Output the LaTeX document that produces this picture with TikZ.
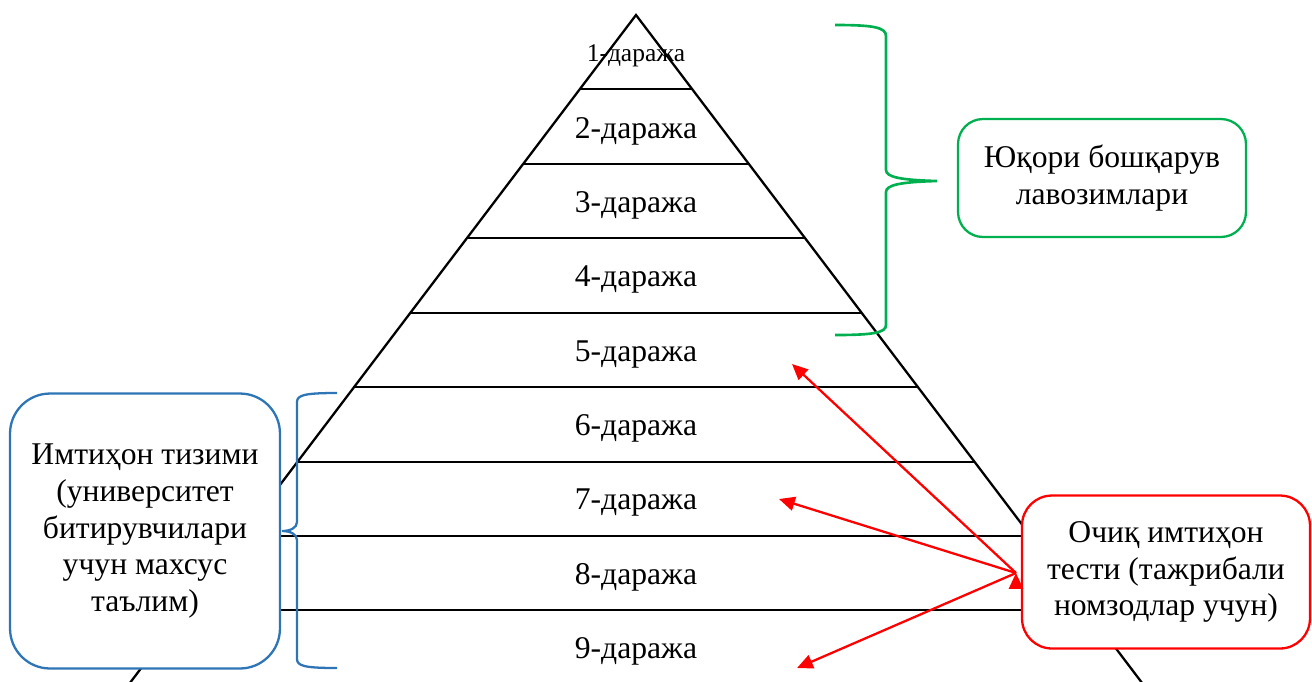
\documentclass[tikz,border=0pt]{standalone}
\usepackage{fontspec}
\setmainfont{Liberation Serif}
\usetikzlibrary{arrows.meta}
\definecolor{brgreen}{RGB}{0,176,80}
\definecolor{brblue}{RGB}{46,117,182}
\definecolor{brred}{RGB}{255,0,0}

\begin{document}
\begin{tikzpicture}[x=0.02cm,y=-0.02cm,line width=1.3pt,
	lvl/.style={font=\fontsize{18}{21}\selectfont},
	infobox/.style={draw,fill=white,line width=1.3pt,align=center,inner sep=0pt,font=\fontsize{18}{21}\selectfont}]
			\clip (0,0) rectangle (1312,681);
			
			% pyramid
			\draw (117,700) -- (636,15) -- (1155,700);
			\draw (580,89) -- (692,89);
			\draw (523,164) -- (749,164);
			\draw (467,238) -- (805,238);
			\draw (410,313) -- (862,313);
			\draw (353,387) -- (919,387);
			\draw (298,462) -- (974,462);
			\draw (242,536) -- (1030,536);
			\draw (186,610) -- (1086,610);
			
			\node[font=\fontsize{14.5}{17}\selectfont] (1) at (636,56) {1-даража};
			\node[lvl] (2) at (636,131) {2-даража};
			\node[lvl] (3) at (636,205) {3-даража};
			\node[lvl] (4) at (636,279) {4-даража};
			\node[lvl] (5) at (636,354) {5-даража};
			\node[lvl] (6) at (636,428) {6-даража};
			\node[lvl] (7) at (636,502) {7-даража};
			\node[lvl] (8) at (636,577) {8-даража};
			\node[lvl] (9) at (636,651) {9-даража};
			
			% braces
			\draw[brgreen,line width=1.5pt] (835,25) .. controls (872,25) and (886,27) .. (886,36) -- (886,170)
				.. controls (886,177) and (900,180) .. (937,181)
				.. controls (900,182) and (886,185) .. (886,192) -- (886,325)
				.. controls (886,333) and (872,335) .. (835,335);
			\draw[brblue,line width=1.3pt] (337,393) .. controls (305,393) and (297,395) .. (297,402) -- (297,522)
				.. controls (297,528) and (290,531) .. (282,531)
				.. controls (290,531) and (297,534) .. (297,540) -- (297,659)
				.. controls (297,666) and (305,668) .. (337,668);
			
			% boxes
			\node[infobox,draw=brgreen,rounded corners=0.5cm,minimum width=5.76cm,minimum height=2.36cm] (top) at (1102,178) {Юқори бошқарув\\лавозимлари};
			\node[infobox,draw=brblue,rounded corners=0.8cm,minimum width=5.4cm,minimum height=5.5cm] (exam) at (145,531) {Имтиҳон тизими\\(университет\\битирувчилари\\учун махсус\\таълим)};
			\node[infobox,draw=brred,rounded corners=0.6cm,minimum width=5.76cm,minimum height=3.06cm] (open) at (1166,572) {Очиқ имтиҳон\\тести (тажрибали\\номзодлар учун)};
			
			% arrows
			\coordinate (src) at (1016,573);
			\coordinate (t5) at (792,364);
			\coordinate (t7) at (779,499);
			\coordinate (t9) at (797,668);
			\path[draw,brred,-{Triangle[length=9pt,width=8pt]}] (src) edge (t5) edge (t7) edge (t9);
		\end{tikzpicture}
\end{document}
